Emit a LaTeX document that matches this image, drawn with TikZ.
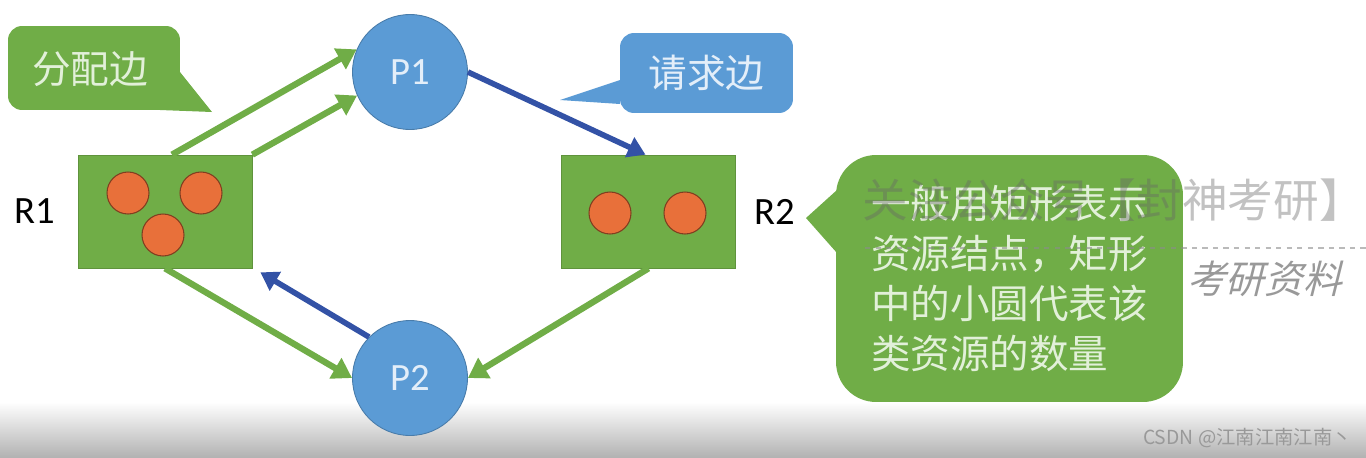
\documentclass[tikz,border=0pt]{standalone}
\usepackage{fontspec}
\setmainfont{Carlito}
\newfontfamily\cjk{Noto Sans CJK SC}
\usepackage{tikz}
\usetikzlibrary{
	arrows.meta,
	positioning,
	calc
}

\definecolor{resgreen}{HTML}{70AD47}
\definecolor{procblue}{HTML}{5B9BD5}
\definecolor{reqblue}{HTML}{3352A6}
\definecolor{unitorange}{HTML}{E8703A}
\definecolor{palegreen}{HTML}{E2F0D9}
\definecolor{paleblue}{HTML}{E3EEF9}

\begin{document}
\begin{tikzpicture}[
				x=0.02cm, y=-0.02cm,
				resbox/.style={
					rectangle, fill=resgreen, draw=resgreen!85!black, line width=0.4pt,
					minimum width=3.48cm, minimum height=2.26cm
				},
				proc/.style={
					circle, fill=procblue, draw=procblue!80!black, line width=0.5pt,
					minimum size=2.3cm, inner sep=0pt,
					text=paleblue, font=\fontsize{22}{26}\selectfont
				},
				unit/.style={
					circle, fill=unitorange, draw=unitorange!55!black, line width=0.6pt,
					minimum size=0.84cm, inner sep=0pt
				},
				reslabel/.style={
					font=\fontsize{22}{26}\selectfont, inner sep=0pt
				},
				greentip/.style={
					rectangle, rounded corners=0.28cm, fill=resgreen,
					text=palegreen, font=\cjk\fontsize{22}{26}\selectfont
				},
				bluetip/.style={
					greentip, fill=procblue, text=paleblue
				},
				alloc/.style={-{Triangle[length=11pt, width=13pt]}, line width=3.6pt, resgreen},
				req/.style={-{Triangle[length=10pt, width=12pt]}, line width=3.2pt, reqblue},
				]
				
				\useasboundingbox (0,0) rectangle (1366,457);
				\shade[top color=white, bottom color=black!30] (0,402) rectangle (1366,457);
				
				%resources
				\node[resbox] (R1) at (165,211.5) {};
				\node[resbox] (R2) at (648.5,211.5) {};
				\node[reslabel, left=0.45cm of R1] (R1lab) {R1};
				\node[reslabel, right=0.36cm of R2] (R2lab) {R2};
				
				\node[unit] (u11) at (128,193) {};
				\node[unit] (u12) at (201,193) {};
				\node[unit] (u13) at (163,235) {};
				\node[unit] (u21) at (610,213) {};
				\node[unit] (u22) at (685,213) {};
				
				%processes
				\node[proc] (P1) at (410,72) {P1};
				\node[proc] (P2) at (410,378) {P2};
				
				%edges
				\draw[alloc] ([xshift=0.14cm]R1.north) -- (P1.157);
				\draw[alloc] (R1.north east) -- (P1.204);
				\draw[req] (P1.east) -- ([xshift=-0.06cm]R2.north);
				\draw[alloc] (R2.south) -- (P2.east);
				\draw[alloc] (R1.south) -- (P2.west);
				\draw[req] (P2.135) -- ($(R1.south east)+(8,4)$);
				
				%callouts
				\node[greentip, minimum width=3.44cm, minimum height=1.68cm, text depth=0pt] (allocnote) at (94,68) {\hspace*{-0.16cm}分配边};
				\coordinate (alloctip) at (212,112);
				\fill[resgreen] (180,72) -- (alloctip) -- (160,110) -- cycle;
				
				\node[bluetip, minimum width=3.46cm, minimum height=1.6cm] (reqnote) at (706.5,73) {请求边};
				\coordinate (reqtip) at (560,100);
				\fill[procblue] (620,80) -- (reqtip) -- (620,104) -- cycle;
				
				\node[greentip, rounded corners=0.8cm, minimum width=6.94cm, minimum height=4.94cm,
					align=left, font=\cjk\fontsize{22.5}{28.4}\selectfont] (resnote) at (1009.5,278.5)
					{一般用矩形表示\\资源结点，矩形\\中的小圆代表该\\类资源的数量};
				\coordinate (restip) at (806,218);
				\fill[resgreen] (837,190) -- (restip) -- (837,253) -- cycle;
				
				%watermark
				\node[anchor=west, inner sep=0pt, text=black!60, opacity=0.4,
					font=\cjk\fontsize{26}{30}\selectfont] (wmark) at (862,200) {关注公众号【封神考研】};
				\draw[black!45, dashed, line width=0.8pt, opacity=0.6] (865,248) -- (1366,248);
				\node[inner sep=0pt, text=black!40, xslant=0.25,
					font=\cjk\fontsize{22}{26}\selectfont] (wmark2) at (1268,279) {考研资料};
				\node[anchor=east, inner sep=0pt, text=black!40,
					font=\cjk\fontsize{11}{13}\selectfont] (csdn) at (1352,438) {CSDN @江南江南江南丶};
			\end{tikzpicture}
\end{document}
